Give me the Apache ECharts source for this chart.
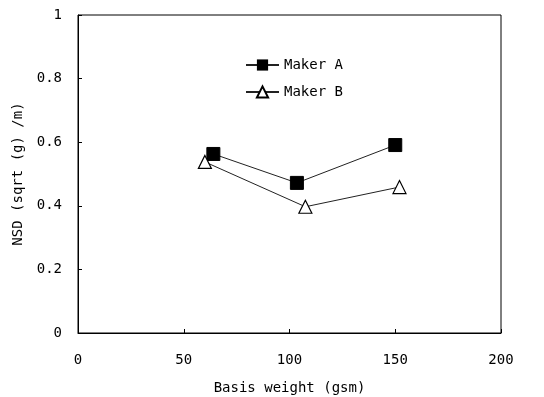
<!DOCTYPE html>
<html><head><meta charset="utf-8">
<script src="https://cdn.jsdelivr.net/npm/echarts@6/dist/echarts.min.js"></script>
<style>html,body{margin:0;padding:0;background:#fff}#c{width:544px;height:397px}</style>
</head><body><div id="c"></div>
<script>
const makerA_x = [64, 103.5, 150];
const makerA_y = [0.563, 0.472, 0.591];
const makerB_x = [60, 107.5, 152];
const makerB_y = [0.538, 0.397, 0.459];
const seriesNames = ['Maker A', 'Maker B'];
const xTitle = 'Basis weight (gsm)';
const yTitle = 'NSD (sqrt (g) /m)';

const font = 'DejaVu Sans Mono';
const chart = echarts.init(document.getElementById('c'));
chart.setOption({
  animation: false,
  backgroundColor: '#fff',
  grid: {left: 78, top: 15, right: 43, bottom: 64, show: true, borderColor: '#000', borderWidth: 1, outerBoundsMode: 'none', containLabel: false},
  legend: {
    orient: 'vertical', left: 240, top: 53, itemGap: 13, itemWidth: 33, itemHeight: 14,
    textStyle: {fontFamily: font, fontSize: 14, color: '#000'},
    data: seriesNames
  },
  xAxis: {
    type: 'value', min: 0, max: 200, interval: 50,
    name: xTitle, nameLocation: 'middle', nameGap: 48,
    nameTextStyle: {fontFamily: font, fontSize: 14, color: '#000'},
    axisLine: {lineStyle: {color: '#000', width: 1}},
    axisTick: {inside: true, length: 4, lineStyle: {color: '#000'}},
    axisLabel: {fontFamily: font, fontSize: 14, color: '#000', margin: 20},
    splitLine: {show: false}
  },
  yAxis: {
    type: 'value', min: 0, max: 1, interval: 0.2,
    name: yTitle, nameLocation: 'middle', nameGap: 53, nameRotate: 90,
    nameTextStyle: {fontFamily: font, fontSize: 14, color: '#000'},
    axisLine: {show: true, lineStyle: {color: '#000', width: 1}},
    axisTick: {show: true, inside: true, length: 4, lineStyle: {color: '#000'}},
    axisLabel: {fontFamily: font, fontSize: 14, color: '#000', margin: 16, formatter: v => String(+v.toFixed(1))},
    splitLine: {show: false}
  },
  series: [
    {
      name: seriesNames[0], type: 'line',
      data: makerA_x.map((x, i) => [x, makerA_y[i]]),
      symbol: 'rect', symbolSize: 13,
      lineStyle: {color: '#222', width: 1},
      itemStyle: {color: '#000', borderColor: '#000'}
    },
    {
      name: seriesNames[1], type: 'line',
      data: makerB_x.map((x, i) => [x, makerB_y[i]]),
      symbol: 'triangle', symbolSize: 13,
      lineStyle: {color: '#222', width: 1},
      itemStyle: {color: '#fff', borderColor: '#000', borderWidth: 1.2}
    }
  ]
});
</script></body></html>
